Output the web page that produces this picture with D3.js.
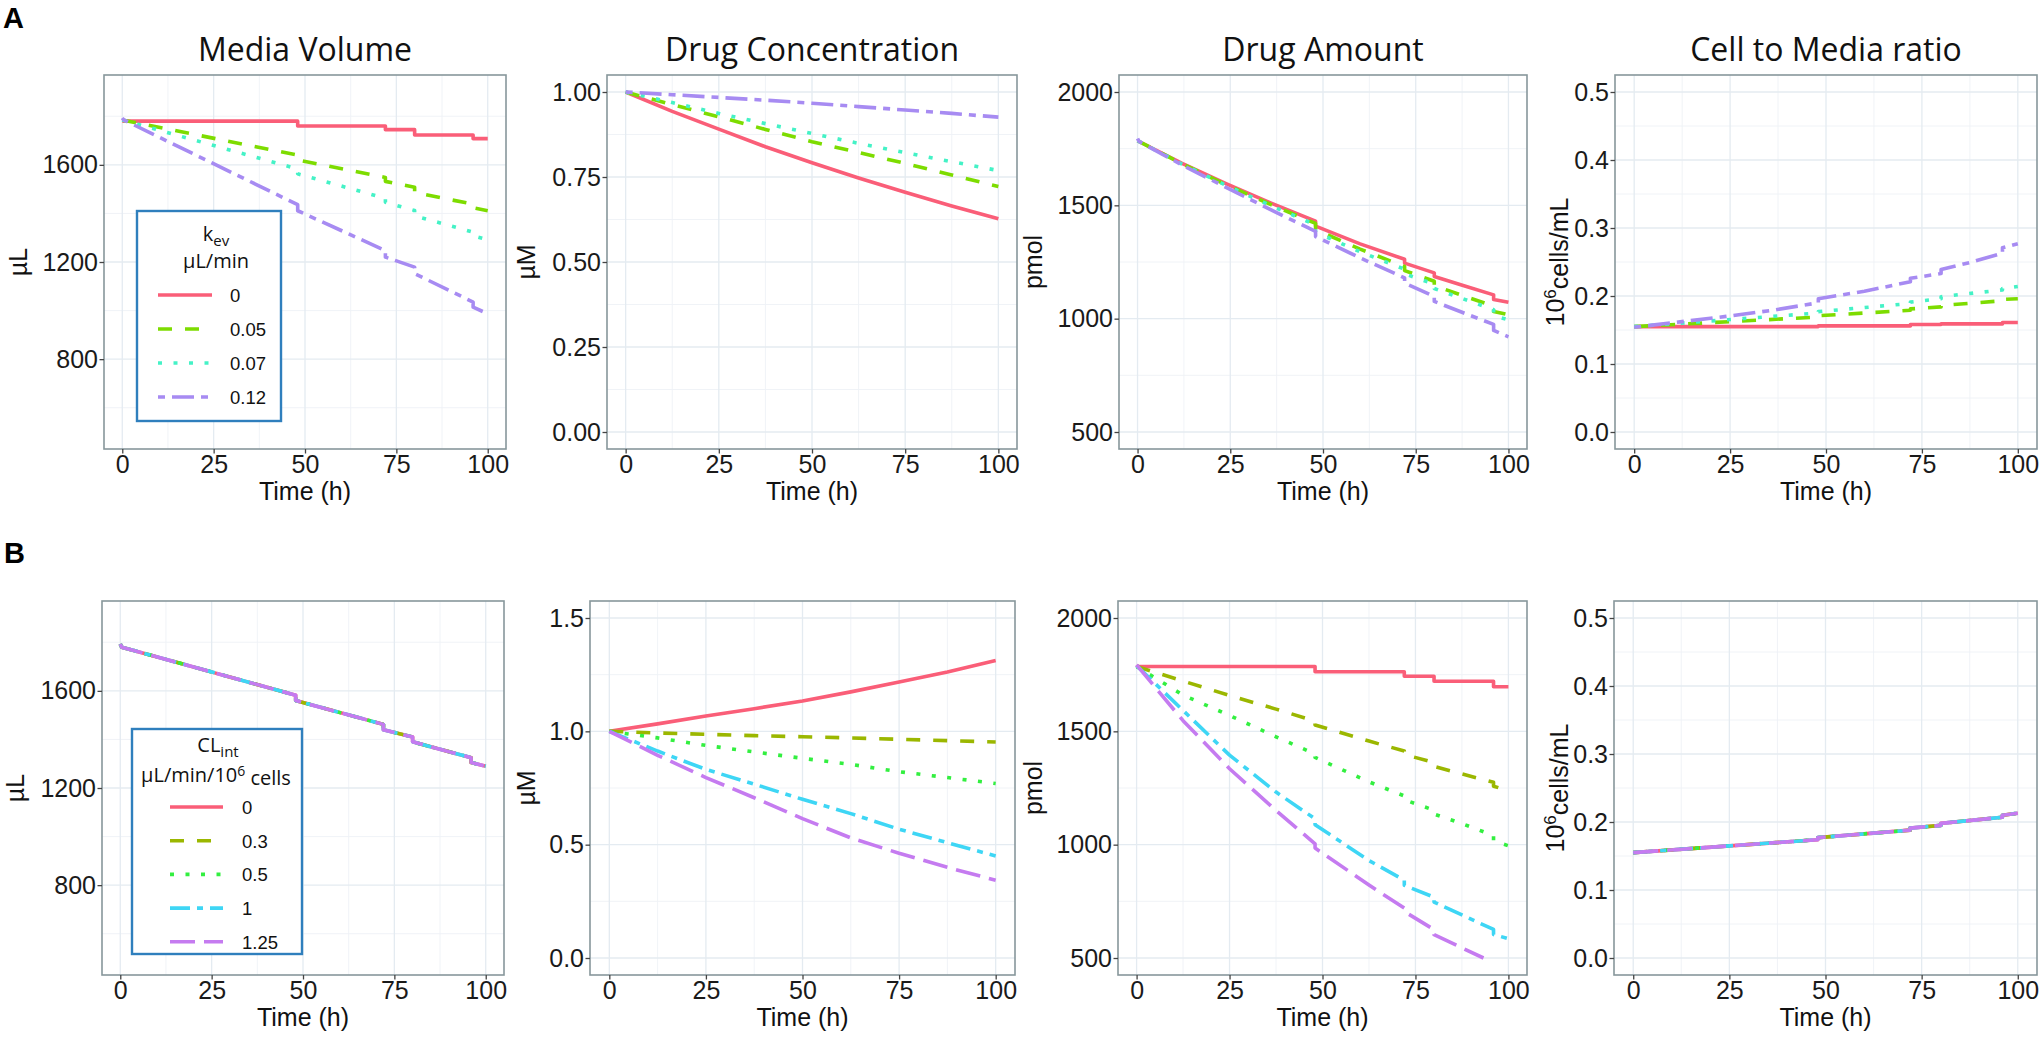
<!DOCTYPE html>
<html>
<head>
<meta charset="utf-8">
<script src="https://cdn.jsdelivr.net/npm/d3@7"></script>
<style>
  body { margin: 0; background: #fff; }
  .tick text { font-family: "Liberation Sans", Arial, sans-serif; font-size: 25px; fill: #1a1a1a; }
  .tick line { stroke: #444; stroke-width: 1.3; }
  .grid-major { stroke: #e4ebf1; stroke-width: 1.3; }
  .grid-minor { stroke: #eef2f6; stroke-width: 0.9; }
  .frame { fill: none; stroke: #87979b; stroke-width: 1.6; }
  .ptitle { font-family: "Open Sans", sans-serif; font-size: 32px; fill: #111; }
  .atitle { font-family: "Liberation Sans", Arial, sans-serif; font-size: 25px; fill: #111; }
  .series { fill: none; stroke-width: 3.6; stroke-linejoin: round; }
  .ltitle { font-family: "Open Sans", sans-serif; font-size: 20px; fill: #111; }
  .llabel { font-family: "Liberation Sans", Arial, sans-serif; font-size: 18.5px; fill: #111; }
  .tag { font-family: "Liberation Sans", Arial, sans-serif; font-size: 29px; font-weight: bold; }
</style>
</head>
<body>
<svg id="fig" width="2043" height="1037"></svg>
<script>
// ---- data ----
var timeTicks = [0, 25, 50, 75, 100];
var timeMinor = [12.5, 37.5, 62.5, 87.5];
var panelTitles = ["Media Volume", "Drug Concentration", "Drug Amount", "Cell to Media ratio"];
var kevLabels = ["0", "0.05", "0.07", "0.12"];
var clintLabels = ["0", "0.3", "0.5", "1", "1.25"];

var volTicks = [800, 1200, 1600], volMinor = [600, 1000, 1400, 1800];
var concATicks = [0, 0.25, 0.5, 0.75, 1], concAMinor = [0.125, 0.375, 0.625, 0.875];
var concBTicks = [0, 0.5, 1, 1.5], concBMinor = [0.25, 0.75, 1.25];
var amtTicks = [500, 1000, 1500, 2000], amtMinor = [750, 1250, 1750];
var ratioTicks = [0, 0.1, 0.2, 0.3, 0.4, 0.5], ratioMinor = [0.05, 0.15, 0.25, 0.35, 0.45];

// A: media volume (uL) by k_ev
var volA_k0   = [[0,1780],[48,1780],[48,1760],[72,1760],[72,1745],[80,1745],[80,1723],[96,1723],[96,1708],[100,1708]];
var volA_k005 = [[0,1785],[48,1640],[48,1620],[72,1548],[72,1532],[80,1508],[80,1486],[96,1438],[96,1423],[100,1411]];
var volA_k007 = [[0,1785],[48,1583],[48,1563],[72,1462],[72,1446],[80,1412],[80,1390],[96,1323],[96,1308],[100,1291]];
var volA_k012 = [[0,1793],[0.4,1785],[48,1436],[48,1411],[72,1247],[72,1220],[80,1179],[80,1152],[96,1035],[96,1014],[100,987]];

// A: drug concentration (uM)
var concTimes = [0, 12.5, 25, 37.5, 50, 62.5, 75, 87.5, 100];
var concA_k0   = [1, 0.943, 0.891, 0.839, 0.792, 0.747, 0.705, 0.665, 0.627];
var concA_k005 = [1, 0.963, 0.927, 0.890, 0.854, 0.822, 0.790, 0.756, 0.722];
var concA_k007 = [1, 0.969, 0.937, 0.907, 0.878, 0.849, 0.822, 0.795, 0.769];
var concA_k012 = [1, 0.992, 0.984, 0.976, 0.967, 0.957, 0.947, 0.937, 0.926];

// A: drug amount (pmol)
var amtA_k0   = [[0,1785],[12,1685],[24,1595],[36,1510],[48,1430],[48,1408],[60,1330],[72,1262],[72,1245],[80,1202],[80,1186],[88,1145],[96,1105],[96,1085],[100,1072]];
var amtA_k005 = [[0,1785],[12,1683],[24,1590],[36,1503],[48,1420],[48,1393],[60,1307],[72,1230],[72,1212],[80,1165],[80,1146],[88,1100],[96,1055],[96,1032],[100,1017]];
var amtA_k007 = [[0,1785],[12,1682],[24,1587],[36,1498],[48,1414],[48,1382],[60,1295],[72,1218],[72,1198],[80,1152],[80,1133],[88,1086],[96,1040],[96,1013],[100,995]];
var amtA_k012 = [[0,1795],[0.4,1782],[12,1678],[24,1578],[36,1480],[48,1385],[48,1362],[60,1268],[72,1180],[72,1157],[80,1098],[80,1076],[88,1025],[96,975],[96,948],[100,920]];

// A: cell to media ratio (10^6 cells/mL)
var ratioA_k0   = [[0,0.155],[48,0.155],[48,0.156],[72,0.156],[72,0.158],[80,0.158],[80,0.159],[96,0.159],[96,0.161],[100,0.161]];
var ratioA_k005 = [[0,0.155],[48,0.169],[48,0.171],[72,0.179],[72,0.181],[80,0.184],[80,0.186],[96,0.193],[96,0.195],[100,0.196]];
var ratioA_k007 = [[0,0.155],[48,0.175],[48,0.177],[72,0.189],[72,0.191],[80,0.196],[80,0.199],[96,0.209],[96,0.211],[100,0.214]];
var ratioA_k012 = [[0,0.154],[12,0.162],[24,0.170],[36,0.179],[48,0.190],[48,0.196],[60,0.207],[72,0.221],[72,0.226],[80,0.233],[80,0.239],[88,0.250],[96,0.263],[96,0.271],[100,0.277]];

// B: volume and ratio are the same for every CL_int
var volB   = [[0,1793],[0.4,1780],[48,1582],[48,1560],[72,1462],[72,1440],[80,1410],[80,1390],[96,1325],[96,1305],[100,1290]];
var ratioB = [[0,0.155],[48,0.174],[48,0.177],[72,0.188],[72,0.191],[80,0.195],[80,0.198],[96,0.207],[96,0.210],[100,0.213]];

// B: drug concentration by CL_int
var concB_c0   = [1, 1.033, 1.068, 1.100, 1.134, 1.174, 1.218, 1.262, 1.312];
var concB_c03  = [1, 0.993, 0.987, 0.981, 0.976, 0.971, 0.965, 0.959, 0.953];
var concB_c05  = [1, 0.971, 0.938, 0.909, 0.881, 0.854, 0.822, 0.796, 0.770];
var concB_c1   = [1, 0.913, 0.832, 0.767, 0.700, 0.637, 0.568, 0.509, 0.450];
var concB_c125 = [1, 0.894, 0.796, 0.707, 0.615, 0.530, 0.462, 0.400, 0.343];

// B: drug amount by CL_int
var amtB_c0   = [[0,1793],[0.4,1786],[48,1786],[48,1763],[72,1763],[72,1743],[80,1743],[80,1721],[96,1721],[96,1697],[100,1697]];
var amtB_c03  = [[0,1786],[12.5,1722],[25,1658],[37.5,1598],[48,1545],[48,1528],[62.5,1457],[72,1413],[72,1398],[80,1362],[80,1345],[87.5,1312],[96,1275],[96,1258],[100,1238]];
var amtB_c05  = [[0,1786],[12.5,1660],[25,1570],[37.5,1476],[48,1400],[48,1385],[62.5,1277],[72,1215],[72,1198],[80,1152],[80,1135],[87.5,1093],[96,1040],[96,1017],[100,995]];
var amtB_c1   = [[0,1790],[12.5,1592],[25,1395],[37.5,1232],[48,1114],[48,1088],[62.5,930],[72,843],[72,821],[80,768],[80,747],[87.5,690],[96,626],[96,604],[100,585]];
var amtB_c125 = [[0,1793],[12.5,1547],[25,1335],[37.5,1151],[48,1004],[48,985],[62.5,822],[72,720],[72,705],[80,625],[80,603],[87.5,545],[93.3,500]];

// ---- styles ----
var colorsA = ["#fa5e78", "#7ddc00", "#44f2c6", "#a78bf2"];
var dashesA = [null, "14,13", "4,11.5", "7,7,22,7"];
var colorsB = ["#fa5e78", "#9bb700", "#33ef40", "#3ed6f5", "#c57bf0"];
var dashesB = [null, "14,13", "4,11.5", "20,7,6,7", "25,9"];

function pairs(times, vals) { return times.map(function(t, i) { return [t, vals[i]]; }); }

var svg = d3.select("#fig");
svg.append("rect").attr("width", 2043).attr("height", 1037).attr("fill", "#fff");

var rowA = { top: 75, bottom: 449 }, rowB = { top: 601, bottom: 975 };

var panels = [
  { row: rowA, left: 104, right: 506, ytx: 27, title: panelTitles[0], yTitle: "µL",
    dom: [430, 1970], ticks: volTicks, minor: volMinor, fmt: d3.format("d"),
    series: [volA_k0, volA_k005, volA_k007, volA_k012], colors: colorsA, dashes: dashesA },
  { row: rowA, left: 607, right: 1017, ytx: 535, title: panelTitles[1], yTitle: "µM",
    dom: [-0.05, 1.05], ticks: concATicks, minor: concAMinor, fmt: d3.format(".2f"),
    series: [concA_k0, concA_k005, concA_k007, concA_k012].map(function(v) { return pairs(concTimes, v); }),
    colors: colorsA, dashes: dashesA },
  { row: rowA, left: 1119, right: 1527, ytx: 1042, title: panelTitles[2], yTitle: "pmol",
    dom: [425, 2075], ticks: amtTicks, minor: amtMinor, fmt: d3.format("d"),
    series: [amtA_k0, amtA_k005, amtA_k007, amtA_k012], colors: colorsA, dashes: dashesA },
  { row: rowA, left: 1615, right: 2037, ytx: 1564, title: panelTitles[3], yTitle: "cells",
    dom: [-0.025, 0.525], ticks: ratioTicks, minor: ratioMinor, fmt: d3.format(".1f"),
    series: [ratioA_k0, ratioA_k005, ratioA_k007, ratioA_k012], colors: colorsA, dashes: dashesA },

  { row: rowB, left: 102, right: 504, ytx: 24, yTitle: "µL",
    dom: [430, 1970], ticks: volTicks, minor: volMinor, fmt: d3.format("d"),
    series: clintLabels.map(function() { return volB; }), colors: colorsB, dashes: dashesB },
  { row: rowB, left: 590, right: 1015, ytx: 535, yTitle: "µM",
    dom: [-0.075, 1.575], ticks: concBTicks, minor: concBMinor, fmt: d3.format(".1f"),
    series: [concB_c0, concB_c03, concB_c05, concB_c1, concB_c125].map(function(v) { return pairs(concTimes, v); }),
    colors: colorsB, dashes: dashesB },
  { row: rowB, left: 1118, right: 1527, ytx: 1042, yTitle: "pmol",
    dom: [425, 2075], ticks: amtTicks, minor: amtMinor, fmt: d3.format("d"),
    series: [amtB_c0, amtB_c03, amtB_c05, amtB_c1, amtB_c125], colors: colorsB, dashes: dashesB },
  { row: rowB, left: 1614, right: 2037, ytx: 1564, yTitle: "cells",
    dom: [-0.025, 0.525], ticks: ratioTicks, minor: ratioMinor, fmt: d3.format(".1f"),
    series: clintLabels.map(function() { return ratioB; }), colors: colorsB, dashes: dashesB }
];

panels.forEach(function(p, pi) {
  var top = p.row.top, bottom = p.row.bottom;
  var x = d3.scaleLinear().domain([-5, 105]).range([p.left, p.right]);
  var y = d3.scaleLinear().domain(p.dom).range([bottom, top]);
  var g = svg.append("g");

  g.append("clipPath").attr("id", "clip" + pi).append("rect")
    .attr("x", p.left).attr("y", top).attr("width", p.right - p.left).attr("height", bottom - top);

  // grid
  g.selectAll(".mx").data(timeMinor).enter().append("line").attr("class", "grid-minor")
    .attr("x1", x).attr("x2", x).attr("y1", top).attr("y2", bottom);
  g.selectAll(".my").data(p.minor).enter().append("line").attr("class", "grid-minor")
    .attr("x1", p.left).attr("x2", p.right).attr("y1", y).attr("y2", y);
  g.selectAll(".gx").data(timeTicks).enter().append("line").attr("class", "grid-major")
    .attr("x1", x).attr("x2", x).attr("y1", top).attr("y2", bottom);
  g.selectAll(".gy").data(p.ticks).enter().append("line").attr("class", "grid-major")
    .attr("x1", p.left).attr("x2", p.right).attr("y1", y).attr("y2", y);

  var line = d3.line().x(function(d) { return x(d[0]); }).y(function(d) { return y(d[1]); });
  p.series.forEach(function(s, i) {
    g.append("path").datum(s).attr("class", "series")
      .attr("clip-path", "url(#clip" + pi + ")")
      .attr("d", line)
      .attr("stroke", p.colors[i])
      .attr("stroke-dasharray", p.dashes[i]);
  });

  g.append("rect").attr("class", "frame")
    .attr("x", p.left).attr("y", top).attr("width", p.right - p.left).attr("height", bottom - top);

  g.append("g").attr("transform", "translate(0," + bottom + ")")
    .call(d3.axisBottom(x).tickValues(timeTicks).tickSize(4.5).tickPadding(1.5))
    .call(function(a) { a.select(".domain").remove(); a.attr("font-family", null).attr("font-size", null); });
  g.append("g").attr("transform", "translate(" + p.left + ",0)")
    .call(d3.axisLeft(y).tickValues(p.ticks).tickFormat(p.fmt).tickSize(4.5).tickPadding(1.5))
    .call(function(a) { a.select(".domain").remove(); a.attr("font-family", null).attr("font-size", null); });

  var cx = (p.left + p.right) / 2, cy = (top + bottom) / 2;
  g.append("text").attr("class", "atitle").attr("x", cx).attr("y", bottom + 51)
    .attr("text-anchor", "middle").text("Time (h)");

  var yt = g.append("text").attr("class", "atitle").attr("text-anchor", "middle")
    .attr("transform", "translate(" + p.ytx + "," + cy + ") rotate(-90)");
  if (p.yTitle === "cells") {
    yt.append("tspan").text("10");
    yt.append("tspan").attr("dy", "-0.45em").attr("font-size", "17px").text("6");
    yt.append("tspan").attr("dy", "0.45em").text("cells/mL");
  } else {
    yt.text(p.yTitle);
  }

  if (p.title) {
    g.append("text").attr("class", "ptitle").attr("x", cx).attr("y", 61)
      .attr("text-anchor", "middle").text(p.title);
  }
});

// panel tags
svg.append("text").attr("class", "tag").attr("x", 3).attr("y", 28).text("A");
svg.append("text").attr("class", "tag").attr("x", 4).attr("y", 563).text("B");

// legends
function legend(box, labels, colors, dashes, titleFn) {
  var g = svg.append("g");
  g.append("rect").attr("x", box.x).attr("y", box.y).attr("width", box.w).attr("height", box.h)
    .attr("fill", "#fff").attr("stroke", "#2f7fbd").attr("stroke-width", 2.4);
  titleFn(g);
  labels.forEach(function(lab, i) {
    var yy = box.row0 + i * box.step;
    g.append("line").attr("x1", box.kx0).attr("x2", box.kx1).attr("y1", yy).attr("y2", yy)
      .attr("stroke", colors[i]).attr("stroke-width", 3.6).attr("stroke-dasharray", dashes[i]);
    g.append("text").attr("class", "llabel").attr("x", box.lx).attr("y", yy + 6.8).text(lab);
  });
}

legend({ x: 137, y: 211, w: 144, h: 210, row0: 295, step: 34, kx0: 158, kx1: 212, lx: 230 },
  kevLabels, colorsA, dashesA, function(g) {
    var t = g.append("text").attr("class", "ltitle").attr("x", 216).attr("y", 241).attr("text-anchor", "middle");
    t.append("tspan").text("k");
    t.append("tspan").attr("dy", "0.3em").attr("font-size", "15px").text("ev");
    g.append("text").attr("class", "ltitle").attr("x", 216).attr("y", 268).attr("text-anchor", "middle").text("µL/min");
  });

legend({ x: 132, y: 729, w: 170, h: 225, row0: 807, step: 33.7, kx0: 170, kx1: 223, lx: 242 },
  clintLabels, colorsB, dashesB, function(g) {
    var t = g.append("text").attr("class", "ltitle").attr("x", 218).attr("y", 752).attr("text-anchor", "middle");
    t.append("tspan").text("CL");
    t.append("tspan").attr("dy", "0.3em").attr("font-size", "15px").text("int");
    var u = g.append("text").attr("class", "ltitle").attr("x", 216).attr("y", 782).attr("text-anchor", "middle");
    u.append("tspan").text("µL/min/10");
    u.append("tspan").attr("dy", "-0.45em").attr("font-size", "14px").text("6");
    u.append("tspan").attr("dy", "0.45em").text(" cells");
  });
</script>
</body>
</html>
